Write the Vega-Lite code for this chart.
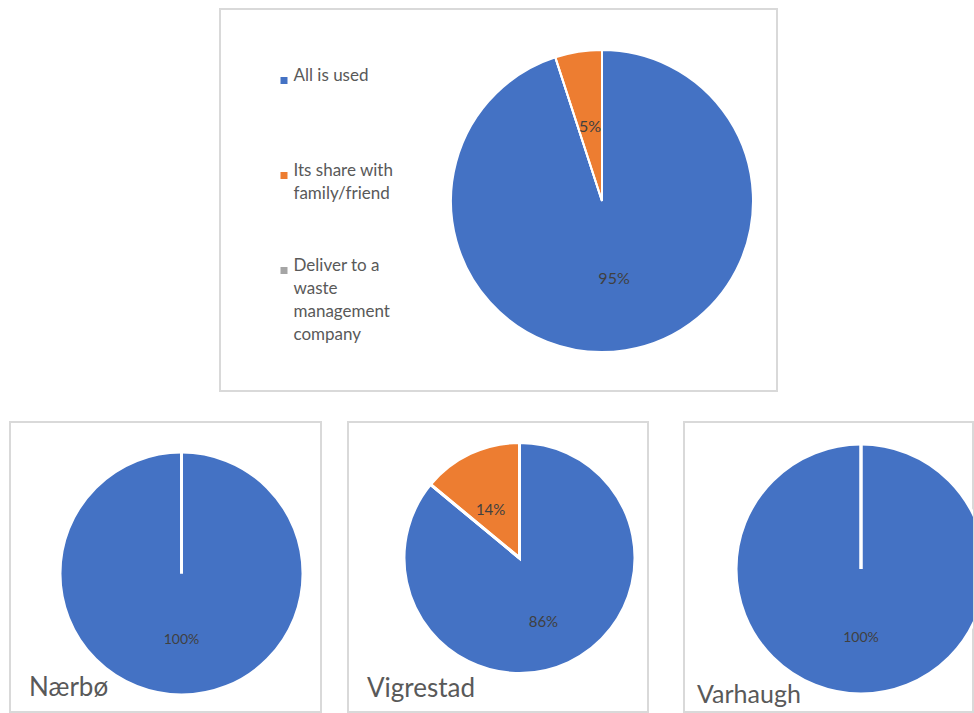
{
  "$schema": "https://vega.github.io/schema/vega-lite/v6.json",
  "padding": {"left": 9, "top": 8, "right": 0, "bottom": 0},
  "config": {
    "font": "Lato",
    "style": {"guide-label": {"lineHeight": 23}}
  },
  "spacing": 29,
  "resolve": {"scale": {"color": "independent"}, "legend": {"color": "independent"}},
  "vconcat": [
    {
      "spacing": 208,
      "resolve": {"scale": {"color": "independent"}, "legend": {"color": "independent"}},
      "hconcat": [
        {"width": 1, "height": 382, "data": {"values": []}, "mark": "point", "view": {"stroke": null}},
        {
          "width": 557,
          "height": 382,
          "view": {"stroke": "#d9d9d9", "strokeWidth": 2},
          "data": {"values": [
            {"category": "All is used", "share": 0.95},
            {"category": "Its share with family/friend", "share": 0.05},
            {"category": "Deliver to a waste management company", "share": 0}
          ]},
          "encoding": {
            "theta": {"field": "share", "type": "quantitative", "stack": true},
            "order": {"field": "category", "type": "nominal", "sort": "ascending"}
          },
          "layer": [
            {
              "mark": {"type": "arc", "outerRadius": 151, "stroke": "white", "strokeWidth": 2, "xOffset": 103.5, "yOffset": 1},
              "encoding": {
                "color": {
                  "field": "category",
                  "type": "nominal",
                  "scale": {"domain": ["All is used", "Its share with family/friend", "Deliver to a waste management company"], "range": ["#4472C4", "#ED7D31", "#A5A5A5"]},
                  "legend": {
                    "title": null,
                    "orient": "none",
                    "legendX": 55.5,
                    "legendY": 63,
                    "direction": "vertical",
                    "symbolType": "square",
                    "symbolSize": 49,
                    "symbolStrokeWidth": 0,
                    "labelFontSize": 17,
                    "labelColor": "#595959",
                    "labelFont": "Lato",
                    "labelBaseline": "alphabetic",
                    "labelOffset": 1,
                    "labelLimit": 300,
                    "rowPadding": 8,
                    "padding": 0,
                    "labelExpr": "datum.label == 'All is used' ? ['All is used', '', '', ''] : datum.label == 'Its share with family/friend' ? ['Its share with', 'family/friend', '', ''] : ['Deliver to a', 'waste', 'management', 'company']"
                  }
                }
              }
            },
            {
              "transform": [{"filter": "datum.share > 0"}],
              "mark": {"type": "text", "radius": 77, "xOffset": 103.5, "yOffset": 3, "fontSize": 16, "color": "#404040", "font": "Lato"},
              "encoding": {"text": {"field": "share", "type": "quantitative", "format": ".0%"}}
            }
          ]
        }
      ]
    },
    {
      "spacing": 34,
      "resolve": {"scale": {"color": "independent"}, "legend": {"color": "independent"}},
      "hconcat": [
        {
          "spacing": 25,
          "resolve": {"scale": {"color": "independent"}, "legend": {"color": "independent"}},
          "hconcat": [
            {
              "width": 311,
              "height": 290,
              "view": {"stroke": "#d9d9d9", "strokeWidth": 2},
              "title": {"text": "Nærbø", "orient": "bottom", "anchor": "start", "offset": -24, "dx": 19, "baseline": "middle", "fontSize": 26, "fontWeight": "normal", "color": "#595959", "font": "Lato"},
              "data": {"values": [
                {"category": "All is used", "share": 1},
                {"category": "Its share with family/friend", "share": 0},
                {"category": "Deliver to a waste management company", "share": 0}
              ]},
              "encoding": {
                "theta": {"field": "share", "type": "quantitative", "stack": true},
                "order": {"field": "category", "type": "nominal", "sort": "ascending"}
              },
              "layer": [
                {
                  "mark": {"type": "arc", "outerRadius": 121.5, "stroke": "white", "strokeWidth": 3, "xOffset": 16, "yOffset": 6.5},
                  "encoding": {"color": {"field": "category", "type": "nominal", "scale": {"domain": ["All is used", "Its share with family/friend", "Deliver to a waste management company"], "range": ["#4472C4", "#ED7D31", "#A5A5A5"]}, "legend": null}}
                },
                {
                  "transform": [{"filter": "datum.share > 0"}],
                  "mark": {"type": "text", "radius": 66, "xOffset": 16, "yOffset": 6.5, "fontSize": 14, "color": "#404040", "font": "Lato"},
                  "encoding": {"text": {"field": "share", "type": "quantitative", "format": ".0%"}}
                }
              ]
            },
            {
              "width": 300,
              "height": 290,
              "view": {"stroke": "#d9d9d9", "strokeWidth": 2},
              "title": {"text": "Vigrestad", "orient": "bottom", "anchor": "start", "offset": -23, "dx": 19, "baseline": "middle", "fontSize": 26, "fontWeight": "normal", "color": "#595959", "font": "Lato"},
              "data": {"values": [
                {"category": "All is used", "share": 0.86},
                {"category": "Its share with family/friend", "share": 0.14},
                {"category": "Deliver to a waste management company", "share": 0}
              ]},
              "encoding": {
                "theta": {"field": "share", "type": "quantitative", "stack": true},
                "order": {"field": "category", "type": "nominal", "sort": "ascending"}
              },
              "layer": [
                {
                  "mark": {"type": "arc", "outerRadius": 115.5, "stroke": "white", "strokeWidth": 3, "xOffset": 21.5, "yOffset": -9},
                  "encoding": {"color": {"field": "category", "type": "nominal", "scale": {"domain": ["All is used", "Its share with family/friend", "Deliver to a waste management company"], "range": ["#4472C4", "#ED7D31", "#A5A5A5"]}, "legend": null}}
                },
                {
                  "transform": [{"filter": "datum.share > 0"}],
                  "mark": {"type": "text", "radius": 62, "xOffset": 19, "yOffset": -1, "fontSize": 15, "color": "#404040", "font": "Lato"},
                  "encoding": {"text": {"field": "share", "type": "quantitative", "format": ".0%"}}
                }
              ]
            }
          ]
        },
        {
          "width": 289,
          "height": 290,
          "view": {"stroke": "#d9d9d9", "strokeWidth": 2},
          "title": {"text": "Varhaugh", "orient": "bottom", "anchor": "start", "offset": -17, "dx": 13, "baseline": "middle", "fontSize": 25, "fontWeight": "normal", "color": "#595959", "font": "Lato"},
          "data": {"values": [
            {"category": "All is used", "share": 1},
            {"category": "Its share with family/friend", "share": 0},
            {"category": "Deliver to a waste management company", "share": 0}
          ]},
          "encoding": {
            "theta": {"field": "share", "type": "quantitative", "stack": true},
            "order": {"field": "category", "type": "nominal", "sort": "ascending"}
          },
          "layer": [
            {
              "mark": {"type": "arc", "outerRadius": 125, "stroke": "white", "strokeWidth": 3, "xOffset": 32.5, "yOffset": 2, "clip": true},
              "encoding": {"color": {"field": "category", "type": "nominal", "scale": {"domain": ["All is used", "Its share with family/friend", "Deliver to a waste management company"], "range": ["#4472C4", "#ED7D31", "#A5A5A5"]}, "legend": null}}
            },
            {
              "transform": [{"filter": "datum.share > 0"}],
              "mark": {"type": "text", "radius": 69, "xOffset": 32.5, "yOffset": 2, "fontSize": 14, "color": "#404040", "font": "Lato"},
              "encoding": {"text": {"field": "share", "type": "quantitative", "format": ".0%"}}
            }
          ]
        }
      ]
    }
  ]
}
